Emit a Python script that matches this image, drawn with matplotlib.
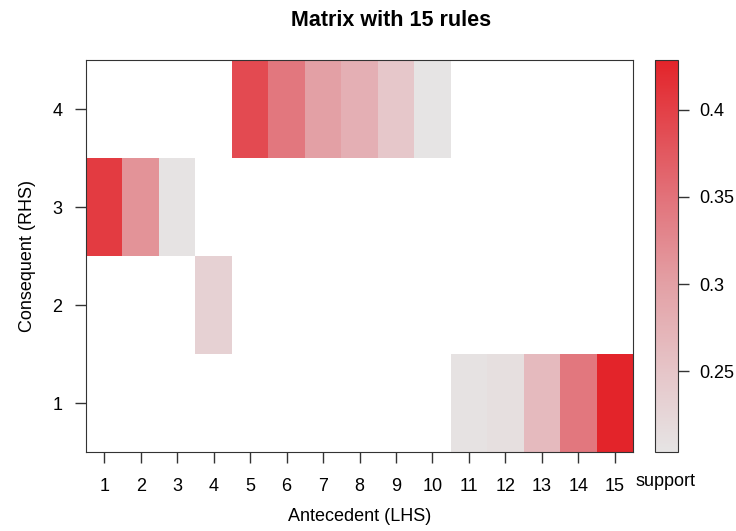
import numpy as np
import matplotlib.pyplot as plt
from matplotlib.colors import LinearSegmentedColormap

plt.rcParams['font.family'] = ['Liberation Sans', 'DejaVu Sans']

# rules: antecedent id (LHS), consequent id (RHS), support
lhs = [1, 2, 3, 4, 5, 6, 7, 8, 9, 10, 11, 12, 13, 14, 15]
rhs = [3, 3, 3, 2, 4, 4, 4, 4, 4, 4, 1, 1, 1, 1, 1]
support = [0.405, 0.315, 0.206, 0.232, 0.390, 0.345, 0.300, 0.280, 0.247,
           0.2035, 0.207, 0.212, 0.265, 0.345, 0.4287]
x_labels = [str(i) for i in range(1, 16)]
y_labels = ['1', '2', '3', '4']

# grid of support values, empty cells masked
grid = np.full((len(y_labels), len(x_labels)), np.nan)
for a, c, s in zip(lhs, rhs, support):
    grid[c - 1, a - 1] = s
grid = np.ma.masked_invalid(grid)

cmap = LinearSegmentedColormap.from_list(
    'grey_red', [(0.0, '#E6E4E4'), (0.2, '#E6C6C9'), (0.43, '#E3A0A5'),
                 (0.65, '#E2727A'), (1.0, '#E3242A')])

fig = plt.figure(figsize=(7.36, 5.31), dpi=100)
ax = fig.add_axes([86 / 736, 1 - 452 / 531, (633 - 86) / 736, (452 - 60) / 531])
cax = fig.add_axes([655 / 736, 1 - 452 / 531, (678 - 655) / 736, (452 - 60) / 531])

xe = np.arange(0.5, len(x_labels) + 1)
ye = np.arange(0.5, len(y_labels) + 1)
vmin, vmax = min(support), max(support)
mesh = ax.pcolormesh(xe, ye, grid, cmap=cmap, vmin=vmin, vmax=vmax)

ax.set_xlim(0.5, 15.5)
ax.set_ylim(0.5, 4.5)
ax.set_xticks(range(1, 16))
ax.set_xticklabels(x_labels)
ax.set_yticks(range(1, 5))
ax.set_yticklabels(y_labels)
ax.tick_params(axis='both', labelsize=13, length=8, width=1, colors='#333333',
               labelcolor='black')
ax.tick_params(axis='x', pad=11)
ax.tick_params(axis='y', pad=9)
for sp in ax.spines.values():
    sp.set_color('#333333')
ax.set_xlabel('Antecedent (LHS)', fontsize=13, labelpad=9)
ax.set_ylabel('Consequent (RHS)', fontsize=13, labelpad=12)

cb = fig.colorbar(mesh, cax=cax)
cb.set_ticks([0.25, 0.3, 0.35, 0.4])
cb.set_ticklabels(['0.25', '0.3', '0.35', '0.4'])
cb.outline.set_edgecolor('#333333')
cax.tick_params(labelsize=13, length=8, width=1, colors='#333333',
                labelcolor='black', pad=7)
fig.text(666 / 736, 1 - 481 / 531, 'support', ha='center', va='center', fontsize=13)

fig.text(391 / 736, 1 - 21 / 531, 'Matrix with 15 rules', ha='center', va='center',
         fontsize=15.5, fontweight='bold')

fig.savefig('out.png', dpi=100)
